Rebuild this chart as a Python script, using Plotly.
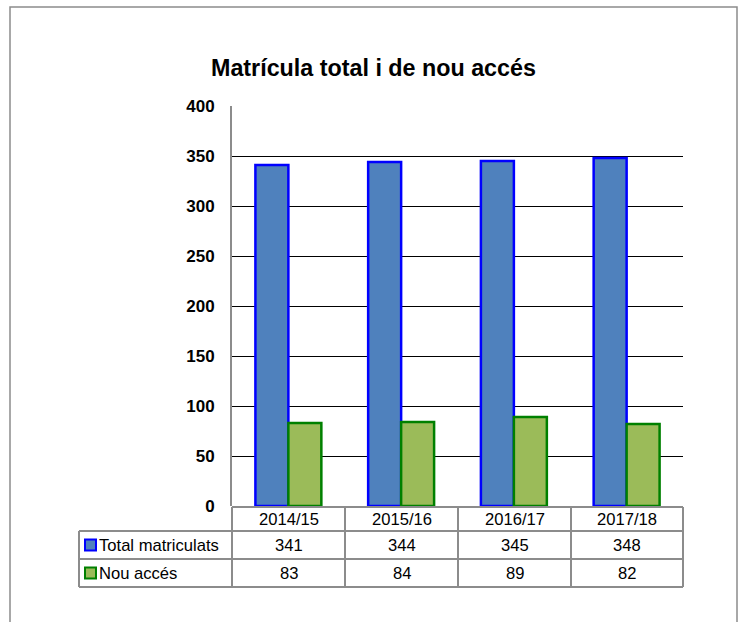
import plotly.graph_objects as go

categories = ["2014/15", "2015/16", "2016/17", "2017/18"]
total_matriculats = [341, 344, 345, 348]
nou_acces = [83, 84, 89, 82]
series_names = ["Total matriculats", "Nou accés"]
y_ticks = [0, 50, 100, 150, 200, 250, 300, 350, 400]
title_text = "Matrícula total i de nou accés"

W, H = 744, 622
def px(x):
    return x / W
def py(y):
    return 1 - y / H

PL, PR, PT, PB = 232, 683, 106, 506
fills = ["#4F81BD", "#9BBB59"]
lines = ["#0000FF", "#008000"]
GRAY = "#8C8C8C"
FONT = "Liberation Sans, Arial, sans-serif"

fig = go.Figure()
for name, vals, fc, lc in zip(series_names, [total_matriculats, nou_acces], fills, lines):
    fig.add_trace(go.Bar(x=categories, y=vals, name=name,
                         marker=dict(color=fc, line=dict(color=lc, width=2.5))))

shapes = []
shapes.append(dict(type="rect", xref="paper", yref="paper", x0=px(10), x1=px(737), y0=py(640), y1=py(7),
                   line=dict(color=GRAY, width=1.5), layer="below"))
rows_y = [507, 531, 559, 587]
cols_x = [232, 345, 458, 571, 683]
tl = dict(color=GRAY, width=2)
shapes.append(dict(type="line", xref="paper", yref="paper", x0=px(232), x1=px(683), y0=py(507), y1=py(507), line=tl))
for y in rows_y[1:]:
    shapes.append(dict(type="line", xref="paper", yref="paper", x0=px(79), x1=px(683), y0=py(y), y1=py(y), line=tl))
for x in cols_x:
    shapes.append(dict(type="line", xref="paper", yref="paper", x0=px(x), x1=px(x), y0=py(507), y1=py(587), line=tl))
shapes.append(dict(type="line", xref="paper", yref="paper", x0=px(79), x1=px(79), y0=py(531), y1=py(587), line=tl))
for i, (fc, lc) in enumerate(zip(fills, lines)):
    cy = 545 + 28 * i
    shapes.append(dict(type="rect", xref="paper", yref="paper", x0=px(85), x1=px(96), y0=py(cy + 5.5), y1=py(cy - 5.5),
                       fillcolor=fc, line=dict(color=lc, width=2)))

annotations = []
tf = dict(family=FONT, size=16.6, color="#000000")
for j, c in enumerate(categories):
    cx = (cols_x[j] + cols_x[j + 1]) / 2
    annotations.append(dict(x=px(cx), y=py(519), xref="paper", yref="paper", text=c, showarrow=False, font=tf,
                            xanchor="center", yanchor="middle"))
    for i, vals in enumerate([total_matriculats, nou_acces]):
        annotations.append(dict(x=px(cx), y=py(545 + 28 * i), xref="paper", yref="paper", text=str(vals[j]),
                                showarrow=False, font=tf, xanchor="center", yanchor="middle"))
for i, n in enumerate(series_names):
    annotations.append(dict(x=px(97), y=py(545 + 28 * i), xref="paper", yref="paper", text=n, showarrow=False,
                            font=tf, xanchor="left", yanchor="middle"))
annotations.append(dict(x=px(373), y=py(68), xref="paper", yref="paper", text="<b>" + title_text + "</b>",
                        showarrow=False, font=dict(family=FONT, size=23.3, color="#000000"),
                        xanchor="center", yanchor="middle"))

fig.update_layout(
    width=W, height=H, margin=dict(l=0, r=0, t=0, b=0, autoexpand=False),
    paper_bgcolor="white", plot_bgcolor="white",
    showlegend=False, barmode="group", bargap=0.415, bargroupgap=0,
    xaxis=dict(domain=[px(PL), px(PR)], showticklabels=False, showgrid=False, zeroline=False,
               showline=False, ticks="", range=[-0.5, 3.5], automargin=False),
    yaxis=dict(domain=[py(PB), py(PT)], range=[0, 400], tickvals=y_ticks, showgrid=True,
               gridcolor="#000000", gridwidth=1, zeroline=False, showline=True, linecolor=GRAY,
               linewidth=2, ticks="", ticklabelstandoff=12, automargin=False,
               tickfont=dict(family=FONT, size=17, color="#000000", weight="bold")),
    shapes=shapes, annotations=annotations,
)
fig.write_html("out.html", config={"displayModeBar": False},
               post_script="document.body.style.margin='0';document.body.style.overflow='hidden';")
